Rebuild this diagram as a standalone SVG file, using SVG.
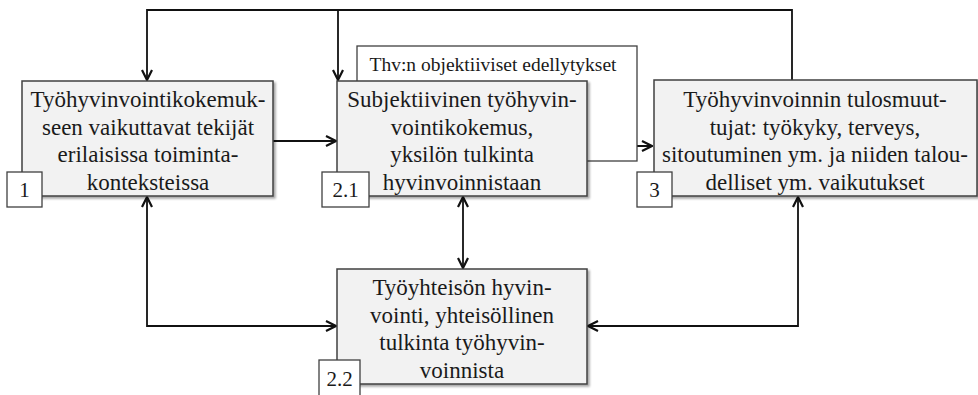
<svg xmlns="http://www.w3.org/2000/svg" width="978" height="395" viewBox="0 0 978 395">
<defs>
<marker id="ah" viewBox="0 0 12 12" refX="11" refY="6" markerWidth="12" markerHeight="12" markerUnits="userSpaceOnUse" orient="auto-start-reverse">
<path d="M1,1 L11,6 L1,11" fill="none" stroke="#111" stroke-width="2.2"/>
</marker>
<filter id="sh" x="-5%" y="-5%" width="110%" height="115%">
<feDropShadow dx="2" dy="2" stdDeviation="1.2" flood-color="#000" flood-opacity="0.35"/>
</filter>
</defs>
<style>
.box{fill:#f2f2f2;stroke:#404040;stroke-width:1.5;filter:url(#sh)}
.plain{fill:#fff;stroke:#404040;stroke-width:1.3}
.t{font-family:"Liberation Serif","Times New Roman",serif;font-size:23px;fill:#1a1a1a;text-anchor:middle}
.s{font-family:"Liberation Serif","Times New Roman",serif;font-size:19.5px;fill:#1a1a1a;text-anchor:middle}
.n{font-family:"Liberation Serif","Times New Roman",serif;font-size:21px;fill:#1a1a1a;text-anchor:middle}
.c{fill:none;stroke:#111;stroke-width:1.8}
</style>
<rect width="978" height="395" fill="#fff"/>
<g id="connectors">
<path class="c" d="M792,80 V10 H147 V80" marker-end="url(#ah)"/>
<path class="c" d="M338,10 V80" marker-end="url(#ah)"/>
<path class="c" d="M273,141 H336" marker-end="url(#ah)"/>
<path class="c" d="M587,146 H652" marker-end="url(#ah)"/>
<path class="c" d="M147,197 V326 H336" marker-start="url(#ah)" marker-end="url(#ah)"/>
<path class="c" d="M463,197 V268" marker-start="url(#ah)" marker-end="url(#ah)"/>
<path class="c" d="M798,197 V326 H588" marker-start="url(#ah)" marker-end="url(#ah)"/>
</g>
<g id="objective">
<rect class="plain" x="357" y="46" width="280" height="115"/>
<text class="s" x="493" y="71">Thv:n objektiiviset edellytykset</text>
</g>
<g id="node1">
<rect class="box" x="22" y="81" width="251" height="115"/>
<text class="t" x="148" y="107">Työhyvinvointikokemuk-</text>
<text class="t" x="148" y="134.5">seen vaikuttavat tekijät</text>
<text class="t" x="148" y="162">erilaisissa toiminta-</text>
<text class="t" x="148" y="189.5">konteksteissa</text>
<rect class="plain" x="7" y="172" width="35" height="35"/>
<text class="n" x="24.5" y="197">1</text>
</g>
<g id="node21">
<rect class="box" x="337" y="81" width="250" height="115"/>
<text class="t" x="462" y="107">Subjektiivinen työhyvin-</text>
<text class="t" x="462" y="134.5">vointikokemus,</text>
<text class="t" x="462" y="162">yksilön tulkinta</text>
<text class="t" x="462" y="189.5">hyvinvoinnistaan</text>
<rect class="plain" x="322" y="172" width="47" height="35"/>
<text class="n" x="345.5" y="197">2.1</text>
</g>
<g id="node3">
<rect class="box" x="654" y="80" width="323" height="116"/>
<text class="t" x="815" y="107">Työhyvinvoinnin tulosmuut-</text>
<text class="t" x="815" y="134.5">tujat: työkyky, terveys,</text>
<text class="t" x="815" y="162">sitoutuminen ym. ja niiden talou-</text>
<text class="t" x="815" y="189.5">delliset ym. vaikutukset</text>
<rect class="plain" x="637" y="172" width="35" height="35"/>
<text class="n" x="654.5" y="197">3</text>
</g>
<g id="node22">
<rect class="box" x="337" y="269" width="250" height="115"/>
<text class="t" x="462" y="295">Työyhteisön hyvin-</text>
<text class="t" x="462" y="322.5">vointi, yhteisöllinen</text>
<text class="t" x="462" y="350">tulkinta työhyvin-</text>
<text class="t" x="462" y="377.5">voinnista</text>
<rect class="plain" x="319" y="360" width="41" height="40"/>
<text class="n" x="339.5" y="386">2.2</text>
</g>
</svg>
